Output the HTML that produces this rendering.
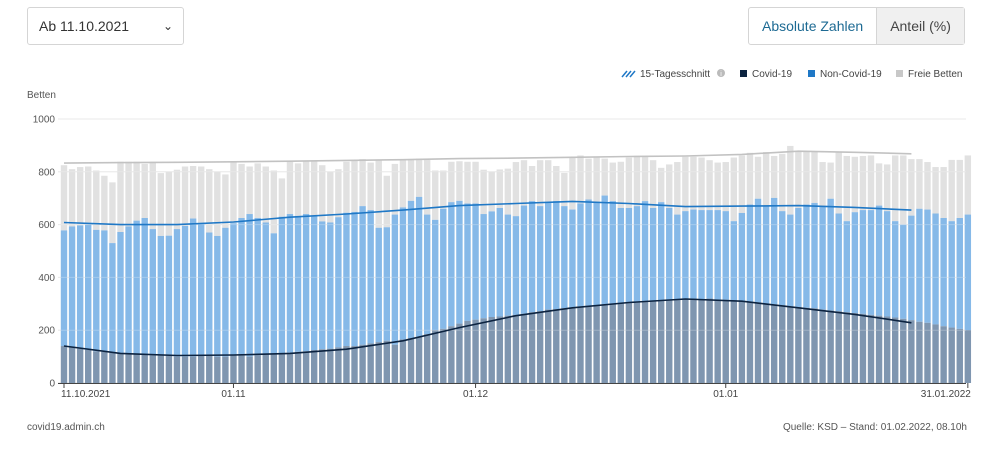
<!DOCTYPE html>
<html><head><meta charset="utf-8">
<style>
body{margin:0;width:994px;height:457px;background:#fff;font-family:"Liberation Sans",sans-serif;overflow:hidden;position:relative}
.sel{position:absolute;left:27px;top:7px;width:157px;height:38px;border:1px solid #d5d5d5;border-radius:3px;box-sizing:border-box;font-size:14px;color:#333;line-height:37px;padding-left:11px}
.sel span{position:absolute;right:10px;top:0;font-size:12px}
.tog{position:absolute;left:748px;top:7px;height:38px;border:1px solid #d5d5d5;border-radius:3px;box-sizing:border-box;display:flex;font-size:14px;line-height:36px}
.tog div{padding:0 13px}
.t1{color:#1d6a93}
.t2{background:#f0f0f0;color:#444;border-left:1px solid #d5d5d5}
.small{position:absolute;font-size:10px;color:#555}
</style></head><body>
<div class="sel">Ab 11.10.2021<span>&#8964;</span></div>
<div class="tog"><div class="t1">Absolute Zahlen</div><div class="t2">Anteil (%)</div></div>
<div class="small" style="left:27px;top:90px">Betten</div>
<div class="small" style="left:27px;top:422px">covid19.admin.ch</div>
<div class="small" style="right:27px;top:422px">Quelle: KSD – Stand: 01.02.2022, 08.10h</div>
<svg id="chart" width="994" height="457" style="position:absolute;left:0;top:0"></svg>
<script>
const covid=[140,135,130,125,120,118,115,112,110,108,108,105,105,103,100,100,100,103,105,100,100,105,108,100,105,108,110,112,115,118,120,125,128,130,135,140,140,145,150,155,160,145,165,170,175,185,200,205,215,225,235,240,245,
250,252,255,258,262,268,272,278,280,283,285,290,293,295,298,300,303,305,306,308,310,312,313,315,318,320,318,320,316,315,312,310,308,305,300,298,295,290,288,285,283,278,275,272,268,265,262,258,255,252,248,243,238,232,228,222,215,210,205,200];
const occupied=[578,593,597,600,580,578,530,572,593,615,625,583,557,558,583,595,623,603,570,557,588,605,625,640,625,608,567,630,640,633,640,635,612,608,628,645,648,670,655,588,590,638,665,690,705,638,618,660,685,690,680,680,640,
650,663,638,632,672,689,670,682,689,670,657,680,695,685,710,689,663,663,670,689,663,685,663,638,651,657,655,655,655,651,613,644,676,698,670,701,651,638,663,676,682,670,698,642,613,647,655,655,672,651,613,600,634,660,657,642,625,613,625,638];
const capacity=[825,810,818,820,805,785,760,838,838,838,830,838,795,800,808,820,822,820,810,800,790,838,830,820,832,820,805,775,838,832,840,840,825,800,810,838,845,848,835,845,785,830,845,848,850,845,805,805,838,840,838,838,808,
800,809,812,837,844,822,844,844,822,796,857,862,850,854,850,835,838,854,857,857,844,815,828,837,857,857,854,844,835,837,854,862,872,857,875,860,868,898,879,875,875,837,835,875,860,857,860,862,832,828,862,862,848,848,837,818,818,845,845,862];
const avgDays=[0,7,14,21,28,35,42,49,56,63,70,77,84,91,98,105];
const avgOccupied=[608,600,600,610,628,640,655,672,680,688,680,668,670,672,665,655];
const avgCapacity=[833,835,836,838,840,843,846,850,852,855,858,860,866,878,874,868];
const avgCovid=[140,112,104,106,112,128,160,210,255,285,305,318,310,285,260,228];
const yTicks=[0,200,400,600,800,1000];
const xTickDays=[0,21,51,82,112];
const xTickLabels=["11.10.2021","01.11","01.12","01.01","31.01.2022"];
const legendLabels=["15-Tagesschnitt","Covid-19","Non-Covid-19","Freie Betten"];

const NS="http://www.w3.org/2000/svg",svg=document.getElementById('chart');
const X0=64,STEP=8.07,Y0=383,SC=0.264;
const x=d=>X0+d*STEP, y=v=>Y0-v*SC;
function el(t,a,p){const e=document.createElementNS(NS,t);for(const k in a)e.setAttribute(k,a[k]);(p||svg).appendChild(e);return e;}
yTicks.forEach(v=>{
 const g=el('line',{x1:58,x2:966,y1:y(v),y2:y(v),stroke:'#e2e2e2','stroke-width':1});
 
 
 const t=el('text',{x:55,y:y(v)+3.5,'text-anchor':'end','font-size':10,fill:'#555'});t.textContent=v;
 
 
});
const bw=6.4;
covid.forEach((c,i)=>{
 const cx=x(i)-bw/2;
 const r1=el('rect',{x:cx,y:y(capacity[i]),width:bw,height:(capacity[i]-occupied[i])*SC,fill:'#e1e1e1'});
 
 
 const r2=el('rect',{x:cx,y:y(occupied[i]),width:bw,height:(occupied[i]-c)*SC,fill:'#86b9e8'});
 
 
 const r3=el('rect',{x:cx,y:y(c),width:bw,height:c*SC,fill:'#7f96b0'});
 
 
});
yTicks.forEach(v=>{
 if(v===0)return;
 const g=el('line',{x1:58,x2:966,y1:y(v),y2:y(v),stroke:'#ffffff','stroke-opacity':0.25,'stroke-width':1});
 
 
});
function line(vals,col,name){
 let d='';avgDays.forEach((dd,i)=>{d+=(i?'L':'M')+x(dd).toFixed(1)+','+y(vals[i]).toFixed(1);});
 const p=el('path',{d:d,fill:'none',stroke:col,'stroke-width':1.6,'stroke-linejoin':'round'});
 
 
}
line(avgCapacity,'#c2c2c2','avg-line-capacity');
line(avgOccupied,'#1f78c6','avg-line-occupied');
line(avgCovid,'#0c2340','avg-line-covid');
const ax=el('line',{x1:58,x2:966,y1:Y0+0.5,y2:Y0+0.5,stroke:'#444','stroke-width':1});


xTickDays.forEach((d,i)=>{
 const tk=el('line',{x1:x(d),x2:x(d),y1:Y0,y2:Y0+5,stroke:'#444'});
 
 
 const anchor=i==0?'start':(i==xTickDays.length-1?'end':'middle');
 const t=el('text',{x:x(d)+(i==0?-3:i==4?3:0),y:397,'text-anchor':anchor,'font-size':10,fill:'#444'});t.textContent=xTickLabels[i];
 
 
});
const lg=[[622,'avg'],[740,'#0c2340'],[808,'#1f78c6'],[896,'#c8c8c8']];
const lgx=[640,752,820,908];
lg.forEach((l,i)=>{
 if(l[1]==='avg'){
  const a=el('path',{d:'M622,77 L627,71 M626,77 L631,71 M630,77 L635,71',stroke:'#1f78c6','stroke-width':1.5});
  
  
 } else {
  const r=el('rect',{x:l[0],y:70,width:7,height:7,fill:l[1]});
  
  
 }
 const t=el('text',{x:lgx[i],y:77,'font-size':10,fill:'#444'});t.textContent=legendLabels[i];
 
 
});
const ic=el('circle',{cx:721,cy:73,r:4,fill:'#bbb'});


const it=el('text',{x:721,y:76,'text-anchor':'middle','font-size':7,fill:'#fff'});it.textContent='i';


</script>
</body></html>
